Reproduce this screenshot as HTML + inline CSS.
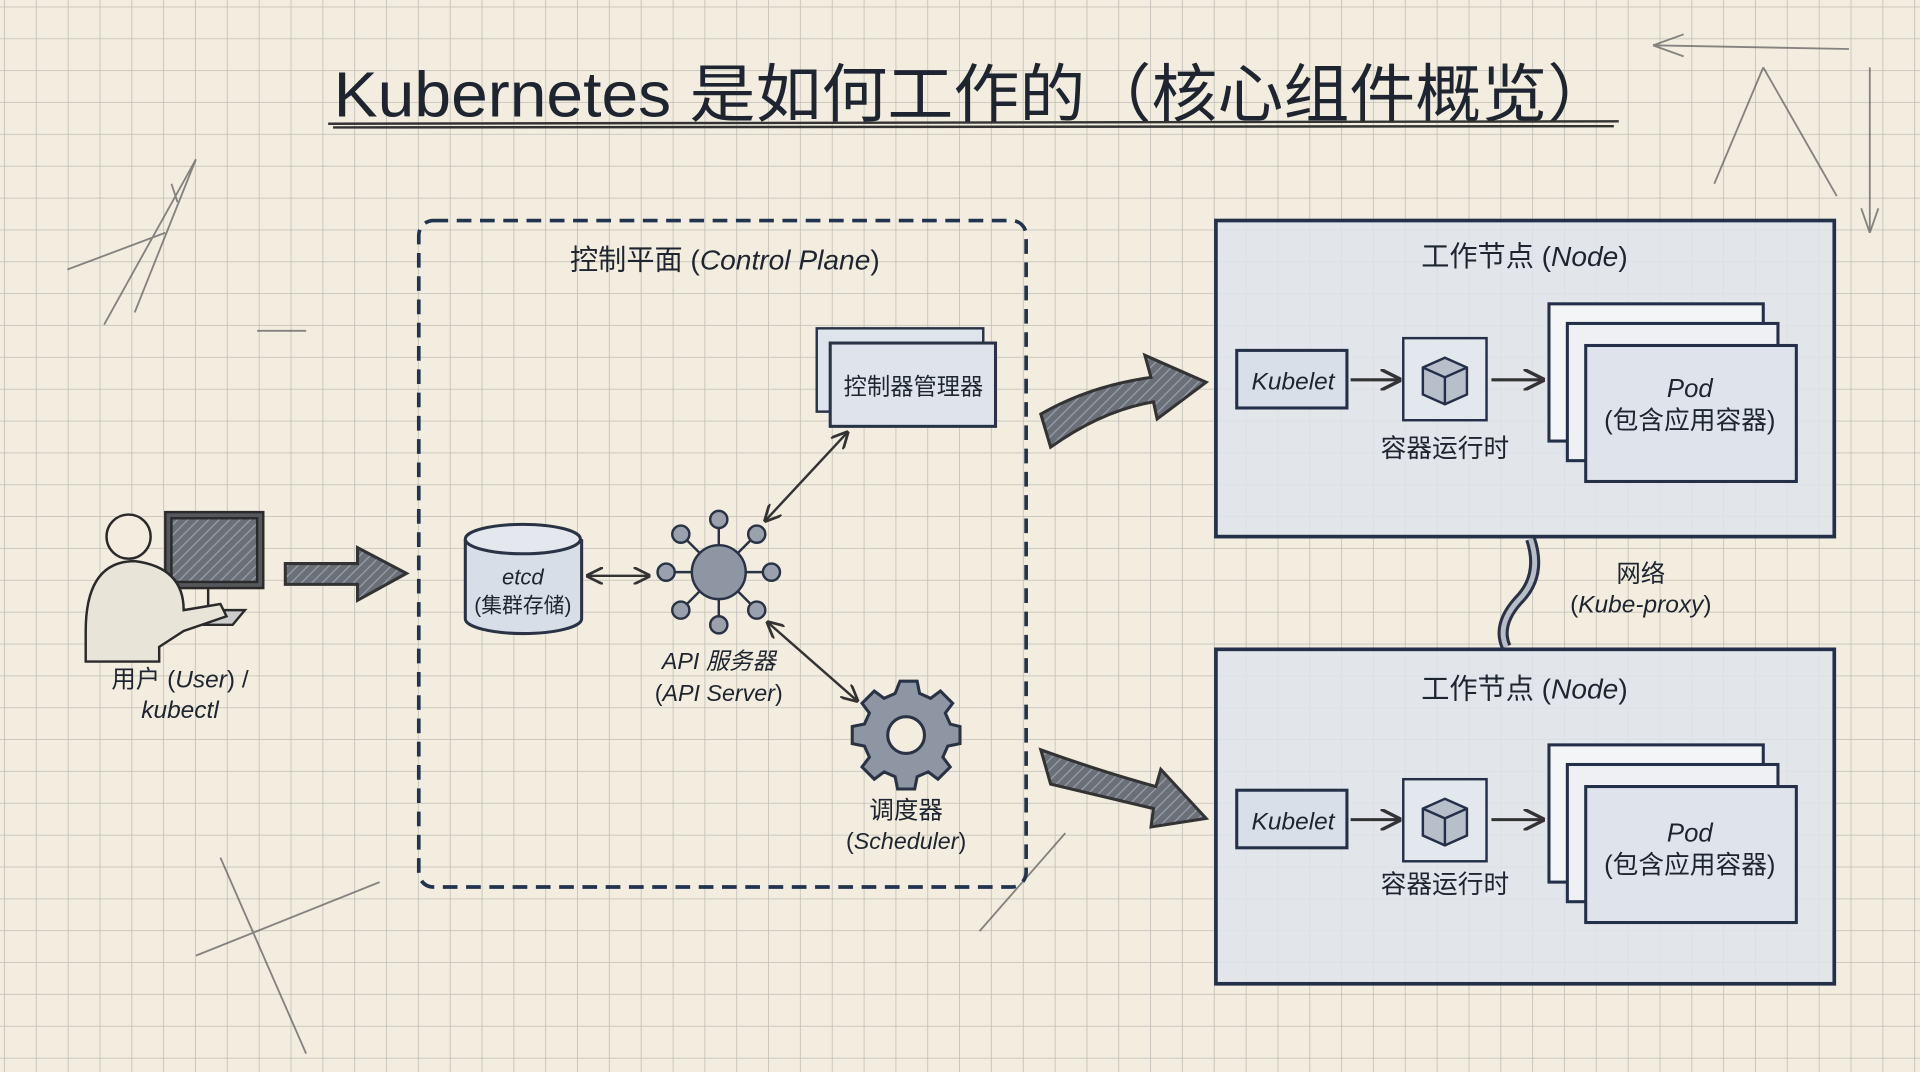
<!DOCTYPE html>
<html><head><meta charset="utf-8"><style>
html,body{margin:0;padding:0;width:1920px;height:1072px;overflow:hidden;background:#f2eddf}
svg{display:block}
text{font-family:"Liberation Sans","Noto Sans CJK SC",sans-serif;fill:#1e2430}
</style></head><body>
<svg width="1920" height="1072" viewBox="0 0 1568 875" preserveAspectRatio="none" xmlns="http://www.w3.org/2000/svg">
<defs>
<pattern id="g" width="26" height="26" patternUnits="userSpaceOnUse" x="4" y="6">
<path d="M26 0V26M0 26H26" fill="none" stroke="#bfbeb6" stroke-width="1.3"/>
</pattern>
<pattern id="h" width="6" height="6" patternUnits="userSpaceOnUse" patternTransform="rotate(45)">
<rect width="6" height="6" fill="#6b6f78"/><line x1="0" y1="0" x2="0" y2="6" stroke="#9aa0aa" stroke-width="2"/>
</pattern>
<marker id="a" viewBox="0 0 10 10" refX="9" refY="5" markerWidth="7" markerHeight="7" orient="auto-start-reverse"><path d="M0 0L10 5L0 10" fill="none" stroke="#333" stroke-width="1.6"/></marker>
</defs>
<rect width="1568" height="875" fill="#f2eddf"/>
<rect width="1568" height="875" fill="url(#g)"/>

<!-- title -->
<text x="795" y="95" font-size="52" text-anchor="middle" fill="#23262c" textLength="1045" lengthAdjust="spacingAndGlyphs">Kubernetes 是如何工作的（核心组件概览）</text>
<path d="M268 101L1322 99M272 104L1318 103" stroke="#333" stroke-width="2" fill="none"/>

<!-- decoration -->
<g stroke="#555" stroke-width="1.5" fill="none" opacity=".7">
<path d="M160 130L85 265M160 130L110 255M140 150L145 165M55 220L135 190M1350 37L1510 40M1350 37L1375 28M1350 37L1375 46M1527 55L1527 190M1527 190L1520 170M1527 190L1534 170M1440 55L1400 150M1440 55L1500 160M160 780L310 720M180 700L250 860M800 760L870 680M210 270L250 270"/>
</g>

<!-- control plane -->
<rect x="342" y="180" width="496" height="544" rx="12" fill="none" stroke="#223350" stroke-width="3" stroke-dasharray="12 7"/>
<text x="592" y="220" font-size="23" text-anchor="middle">控制平面 (<tspan font-style="italic">Control Plane</tspan>)</text>

<!-- controller manager -->
<rect x="667" y="268" width="136" height="68" fill="#dfe4ec" stroke="#2a3346" stroke-width="2"/>
<rect x="678" y="280" width="135" height="68" fill="#dfe4ec" stroke="#2a3346" stroke-width="2.5"/>
<text x="746" y="322" font-size="19" text-anchor="middle">控制器管理器</text>

<!-- etcd -->
<path d="M380 440V505A47 12 0 0 0 475 505V440" fill="#d8dee7" stroke="#2a3346" stroke-width="2.5"/>
<ellipse cx="427" cy="440" rx="47" ry="12" fill="#e4e8ee" stroke="#2a3346" stroke-width="2.5"/>
<text x="427" y="477" font-size="18" text-anchor="middle" font-style="italic">etcd</text>
<text x="427" y="500" font-size="17" text-anchor="middle">(集群存储)</text>

<!-- API server hub -->
<g stroke="#2a3346" stroke-width="2">
<line x1="587" y1="467" x2="587" y2="424"/><line x1="587" y1="467" x2="587" y2="510"/>
<line x1="587" y1="467" x2="544" y2="467"/><line x1="587" y1="467" x2="630" y2="467"/>
<line x1="587" y1="467" x2="556" y2="436"/><line x1="587" y1="467" x2="618" y2="436"/>
<line x1="587" y1="467" x2="556" y2="498"/><line x1="587" y1="467" x2="618" y2="498"/>
<g fill="#9aa1ad">
<circle cx="587" cy="424" r="7"/><circle cx="587" cy="510" r="7"/><circle cx="544" cy="467" r="7"/><circle cx="630" cy="467" r="7"/>
<circle cx="556" cy="436" r="7"/><circle cx="618" cy="436" r="7"/><circle cx="556" cy="498" r="7"/><circle cx="618" cy="498" r="7"/>
<circle cx="587" cy="467" r="22" fill="#8e96a4"/></g></g>
<text x="587" y="546" font-size="19" text-anchor="middle" font-style="italic">API 服务器</text>
<text x="587" y="572" font-size="19" text-anchor="middle">(<tspan font-style="italic">API Server</tspan>)</text>

<!-- gear -->
<g transform="translate(740 600)" stroke="#2a3346" stroke-width="2.5" fill="#8e96a4">
<path d="M-7-40H7L9-30L18-26L26-32L36-22L30-14L34-5L42-3V11L32 13L28 22L34 30L24 40L16 34L7 38L5 48H-9L-11 38L-20 34L-28 40L-38 30L-32 22L-36 13L-46 11V-3L-36-5L-32-14L-38-22L-28-32L-20-26L-11-30Z" transform="translate(2 -4)"/>
<circle cx="0" cy="0" r="15" fill="#f2eddf"/>
</g>
<text x="740" y="668" font-size="20" text-anchor="middle">调度器</text>
<text x="740" y="693" font-size="19" text-anchor="middle">(<tspan font-style="italic">Scheduler</tspan>)</text>

<!-- inner arrows -->
<g stroke="#333" stroke-width="2" fill="none" marker-start="url(#a)" marker-end="url(#a)">
<line x1="480" y1="470" x2="530" y2="470"/>
<line x1="625" y1="425" x2="692" y2="353"/>
<line x1="627" y1="508" x2="700" y2="572"/>
</g>

<!-- user -->
<g stroke="#2a2a2a" stroke-width="2">
<rect x="135" y="418" width="80" height="62" fill="#55575d"/>
<rect x="140" y="423" width="70" height="52" fill="url(#h)"/>
<line x1="170" y1="480" x2="170" y2="495"/><path d="M150 498H200L190 510H140Z" fill="#ccc"/>
<circle cx="105" cy="438" r="18" fill="#f2eddf"/>
<path d="M70 515Q70 458 110 458Q150 463 150 498L180 493L185 503L150 515L130 528V540H70Z" fill="#e8e4d8"/>
</g>
<text x="147" y="561" font-size="20" text-anchor="middle">用户 (<tspan font-style="italic">User</tspan>) /</text>
<text x="147" y="586" font-size="20" text-anchor="middle" font-style="italic">kubectl</text>

<!-- big arrows -->
<path d="M233 460H292V447L332 468L292 490V477H233Z" fill="url(#h)" stroke="#333" stroke-width="2.5"/>
<path d="M850 338Q890 315 940 308L935 290L985 312L945 342L942 328Q900 335 858 365Z" fill="url(#h)" stroke="#333" stroke-width="2.5"/>
<path d="M850 612L858 640Q900 650 942 660L940 675L985 668L948 628L944 642Q900 630 850 612Z" fill="url(#h)" stroke="#333" stroke-width="2.5"/>

<!-- network -->
<path d="M1250 440Q1260 470 1240 490Q1222 510 1230 528" stroke="#2a3346" stroke-width="9" fill="none"/>
<path d="M1250 440Q1260 470 1240 490Q1222 510 1230 528" stroke="#b8bec8" stroke-width="4" fill="none"/>
<text x="1340" y="475" font-size="20" text-anchor="middle">网络</text>
<text x="1340" y="500" font-size="20" text-anchor="middle">(<tspan font-style="italic">Kube-proxy</tspan>)</text>

<!-- nodes -->
<g>
<rect x="993" y="180" width="505" height="258" fill="#dfe4ec" fill-opacity=".85" stroke="#24304a" stroke-width="3"/>
<text x="1245" y="217" font-size="23" text-anchor="middle">工作节点 (<tspan font-style="italic">Node</tspan>)</text>
<rect x="1010" y="286" width="90" height="47" fill="#d9dfe8" stroke="#24304a" stroke-width="2.5"/>
<text x="1056" y="318" font-size="20" text-anchor="middle" font-style="italic">Kubelet</text>
<line x1="1103" y1="310" x2="1143" y2="310" stroke="#333" stroke-width="2.5" marker-end="url(#a)"/>
<rect x="1146" y="276" width="68" height="67" fill="#e3e7ee" stroke="#24304a" stroke-width="2"/>
<path d="M1162 300L1180 292L1198 300V322L1180 330L1162 322Z" fill="#b7bfcb" stroke="#24304a" stroke-width="2"/>
<path d="M1162 300L1180 308L1198 300M1180 308V330" fill="none" stroke="#24304a" stroke-width="2"/>
<text x="1180" y="373" font-size="21" text-anchor="middle">容器运行时</text>
<line x1="1218" y1="310" x2="1260" y2="310" stroke="#333" stroke-width="2.5" marker-end="url(#a)"/>
<rect x="1265" y="248" width="175" height="112" fill="#f4f5f7" stroke="#24304a" stroke-width="2.5"/>
<rect x="1280" y="264" width="172" height="112" fill="#eef0f3" stroke="#24304a" stroke-width="2.5"/>
<rect x="1295" y="282" width="172" height="111" fill="#dfe4ec" stroke="#24304a" stroke-width="2.5"/>
<text x="1380" y="324" font-size="21" text-anchor="middle" font-style="italic">Pod</text>
<text x="1380" y="350" font-size="21" text-anchor="middle">(包含应用容器)</text>
</g>
<g transform="translate(0 357)">
<rect x="993" y="173" width="505" height="273" fill="#dfe4ec" fill-opacity=".85" stroke="#24304a" stroke-width="3"/>
<text x="1245" y="213" font-size="23" text-anchor="middle">工作节点 (<tspan font-style="italic">Node</tspan>)</text>
<rect x="1010" y="288" width="90" height="47" fill="#d9dfe8" stroke="#24304a" stroke-width="2.5"/>
<text x="1056" y="320" font-size="20" text-anchor="middle" font-style="italic">Kubelet</text>
<line x1="1103" y1="312" x2="1143" y2="312" stroke="#333" stroke-width="2.5" marker-end="url(#a)"/>
<rect x="1146" y="279" width="68" height="67" fill="#e3e7ee" stroke="#24304a" stroke-width="2"/>
<path d="M1162 303L1180 295L1198 303V325L1180 333L1162 325Z" fill="#b7bfcb" stroke="#24304a" stroke-width="2"/>
<path d="M1162 303L1180 311L1198 303M1180 311V333" fill="none" stroke="#24304a" stroke-width="2"/>
<text x="1180" y="372" font-size="21" text-anchor="middle">容器运行时</text>
<line x1="1218" y1="312" x2="1260" y2="312" stroke="#333" stroke-width="2.5" marker-end="url(#a)"/>
<rect x="1265" y="251" width="175" height="112" fill="#f4f5f7" stroke="#24304a" stroke-width="2.5"/>
<rect x="1280" y="267" width="172" height="112" fill="#eef0f3" stroke="#24304a" stroke-width="2.5"/>
<rect x="1295" y="285" width="172" height="111" fill="#dfe4ec" stroke="#24304a" stroke-width="2.5"/>
<text x="1380" y="330" font-size="21" text-anchor="middle" font-style="italic">Pod</text>
<text x="1380" y="356" font-size="21" text-anchor="middle">(包含应用容器)</text>
</g>
</svg>
</body></html>
